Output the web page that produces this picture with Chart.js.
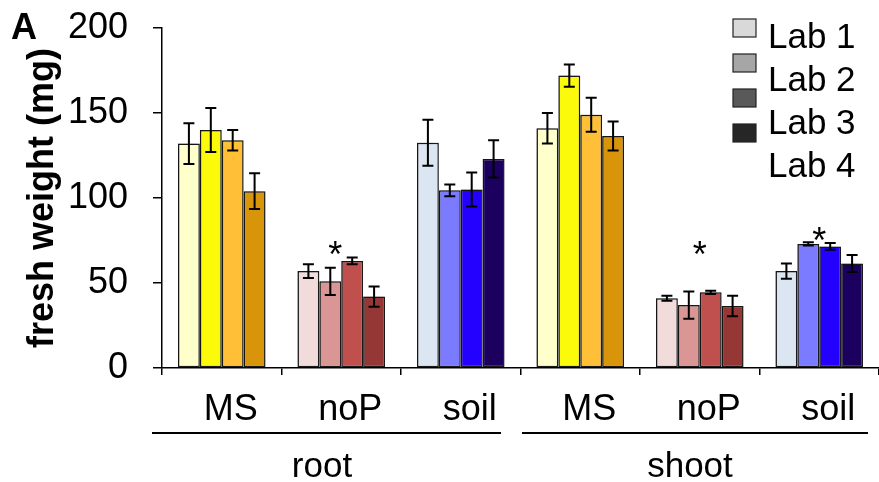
<!DOCTYPE html>
<html>
<head>
<meta charset="utf-8">
<script src="https://cdn.jsdelivr.net/npm/chart.js@4.4.1/dist/chart.umd.min.js"></script>
<style>
  html, body { margin: 0; padding: 0; background: #fff; overflow: hidden; }
  canvas { display: block; }
</style>
</head>
<body>
<canvas id="weightChart" width="879" height="482"></canvas>
<script>
// fresh weight per lab, categories: root MS/noP/soil, shoot MS/noP/soil
const CATEGORIES = ['MS', 'noP', 'soil', 'MS', 'noP', 'soil'];
const GROUPS = ['root', 'shoot'];
const LABS = ['Lab 1', 'Lab 2', 'Lab 3', 'Lab 4'];
const Y_TICKS = [0, 50, 100, 150, 200];

const LAB1 = [132, 57, 132.5, 141, 41, 57];
const LAB2 = [140, 51, 104.5, 172, 37, 73];
const LAB3 = [134, 63, 105, 149, 44.5, 71.5];
const LAB4 = [104, 42, 123, 136.5, 36.5, 61.5];

const LAB1_ERR = [12, 4, 13.5, 9, 1.5, 4.5];
const LAB2_ERR = [13, 8, 3.5, 6.5, 8, 1];
const LAB3_ERR = [6, 2, 10, 10, 1, 2];
const LAB4_ERR = [10.5, 6, 11, 8.5, 6, 5];

// significance stars: category index and height (mg)
const STAR_CATEGORY = [1, 4, 5];
const STAR_VALUE = [72, 72, 80];

// fill colours, one row per lab, columns MS / noP / soil
const LAB_COLORS = [
  ['#FFFFCC', '#F2DCDB', '#DCE6F2'],
  ['#FAFA0A', '#D99694', '#7B7BFF'],
  ['#FFBF37', '#C0504D', '#2400FF'],
  ['#D9950A', '#953735', '#1C005F']
];
const LEGEND_COLORS = ['#D9D9D9', '#A6A6A6', '#595959', '#262626'];

const FONT = "'Liberation Sans', Arial, sans-serif";
const values = [LAB1, LAB2, LAB3, LAB4];
const errors = [LAB1_ERR, LAB2_ERR, LAB3_ERR, LAB4_ERR];

const datasets = LABS.map((lab, i) => ({
  label: lab,
  data: values[i],
  errors: errors[i],
  backgroundColor: CATEGORIES.map((c, k) => LAB_COLORS[i][k % 3]),
  borderColor: '#1a1a1a',
  borderWidth: 1.5,
  borderSkipped: false,
  barPercentage: 1.0,
  categoryPercentage: 0.733
}));

// soft shadow behind the bars
const barShadow = {
  id: 'barShadow',
  beforeDatasetsDraw(chart) {
    const ctx = chart.ctx;
    ctx.save();
    ctx.shadowColor = 'rgba(0, 0, 0, 0.28)';
    ctx.shadowBlur = 5;
    ctx.shadowOffsetX = -2;
    ctx.shadowOffsetY = -2;
  },
  afterDatasetsDraw(chart) {
    chart.ctx.restore();
  }
};

const errorBars = {
  id: 'errorBars',
  afterDatasetsDraw(chart) {
    const ctx = chart.ctx;
    const y = chart.scales.y;
    ctx.save();
    ctx.strokeStyle = '#000';
    ctx.lineWidth = 2;
    chart.data.datasets.forEach((ds, i) => {
      chart.getDatasetMeta(i).data.forEach((bar, k) => {
        const v = ds.data[k], e = ds.errors[k];
        const top = y.getPixelForValue(v + e);
        const bot = y.getPixelForValue(v - e);
        ctx.beginPath();
        ctx.moveTo(bar.x, top); ctx.lineTo(bar.x, bot);
        ctx.moveTo(bar.x - 5.5, top); ctx.lineTo(bar.x + 5.5, top);
        ctx.moveTo(bar.x - 5.5, bot); ctx.lineTo(bar.x + 5.5, bot);
        ctx.stroke();
      });
    });
    ctx.restore();
  }
};

// panel letter, legend, root/shoot brackets and stars
const decorations = {
  id: 'decorations',
  afterDraw(chart) {
    const ctx = chart.ctx;
    const x = chart.scales.x, y = chart.scales.y;
    ctx.save();
    ctx.fillStyle = '#000';
    ctx.textBaseline = 'alphabetic';

    ctx.font = 'bold 36px ' + FONT;
    ctx.textAlign = 'left';
    ctx.fillText('A', 11, 39);

    // legend (swatches sit a little off the text, as in the original)
    ctx.font = '35px ' + FONT;
    LABS.forEach((lab, i) => {
      ctx.fillStyle = '#000';
      ctx.fillText(lab, 768, 48 + i * 43);
      ctx.fillStyle = LEGEND_COLORS[i];
      ctx.fillRect(733, 19 + i * 35, 23, 18);
      ctx.strokeStyle = '#222';
      ctx.lineWidth = 1.2;
      ctx.strokeRect(733, 19 + i * 35, 23, 18);
    });

    // group underlines and labels
    ctx.fillStyle = '#000';
    ctx.strokeStyle = '#000';
    ctx.lineWidth = 2;
    const spans = [[152, 501], [522, 868]];
    const centers = [322, 690];
    ctx.font = '35px ' + FONT;
    ctx.textAlign = 'center';
    GROUPS.forEach((g, i) => {
      ctx.beginPath();
      ctx.moveTo(spans[i][0], 433);
      ctx.lineTo(spans[i][1], 433);
      ctx.stroke();
      ctx.fillText(g, centers[i], 477);
    });

    // stars
    ctx.font = '36px ' + FONT;
    STAR_CATEGORY.forEach((c, i) => {
      const px = x.getPixelForValue(c) - (c === 1 ? 6 : 0);
      ctx.fillText('*', px, y.getPixelForValue(STAR_VALUE[i]) + 21);
    });
    ctx.restore();
  }
};

new Chart(document.getElementById('weightChart'), {
  type: 'bar',
  data: { labels: CATEGORIES, datasets: datasets },
  plugins: [barShadow, errorBars, decorations],
  options: {
    responsive: false,
    animation: false,
    layout: { padding: { top: 28, right: 0, left: 0, bottom: 0 } },
    plugins: {
      legend: { display: false },
      tooltip: { enabled: false }
    },
    scales: {
      x: {
        grid: {
          drawOnChartArea: false,
          drawTicks: true,
          tickLength: 7,
          color: '#000',
          lineWidth: 1.5
        },
        border: { color: '#000', width: 1.5 },
        ticks: {
          color: '#000',
          font: { family: FONT, size: 36 },
          padding: 13,
          labelOffset: 9,
          maxRotation: 0,
          autoSkip: false
        },
        afterFit(scale) {
          scale.height = 114;
          scale.paddingLeft = 0;
          scale.paddingRight = 0;
        }
      },
      y: {
        min: 0,
        max: 200,
        afterBuildTicks(scale) {
          scale.ticks = Y_TICKS.map(v => ({ value: v }));
        },
        grid: {
          drawOnChartArea: false,
          drawTicks: true,
          tickLength: 9,
          color: '#000',
          lineWidth: 1.5
        },
        border: { color: '#000', width: 1.5 },
        ticks: {
          color: '#000',
          font: { family: FONT, size: 36 },
          padding: 25
        },
        title: {
          display: true,
          text: 'fresh weight (mg)',
          color: '#000',
          font: { family: FONT, size: 36, weight: 'bold' },
          padding: { top: 21, bottom: 0 }
        },
        afterFit(scale) {
          scale.width = 162;
          scale.paddingTop = 0;
          scale.paddingBottom = 0;
        }
      }
    }
  }
});
</script>
</body>
</html>
